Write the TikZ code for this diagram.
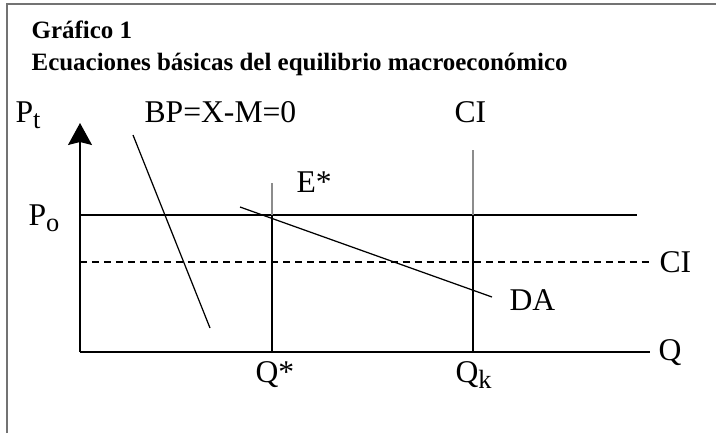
\documentclass[tikz,border=0pt]{standalone}
\usepackage{fontspec}
\setmainfont{Liberation Serif}
\usetikzlibrary{arrows.meta}

\newcommand{\lowidx}[1]{\raisebox{-0.45ex}{\fontsize{15}{15}\selectfont #1}}

\begin{document}
\begin{tikzpicture}[x=0.2mm, y=-0.2mm, line width=0.7pt,
    lbl/.style={anchor=base west, inner sep=0pt, font=\fontsize{18}{18}\selectfont},
    ttl/.style={anchor=base west, inner sep=0pt, font=\bfseries\fontsize{14.2}{16}\selectfont}]
    \useasboundingbox (0,0) rectangle (716,433);
    \coordinate (O) at (80,352);
    \coordinate (Pt) at (80,123);
    \coordinate (Qe) at (650,352);
    \coordinate (P0a) at (80,215);
    \coordinate (P0b) at (637,215);
    \coordinate (CIa) at (80,262);
    \coordinate (CIb) at (653,262);
    \coordinate (BPa) at (133,135);
    \coordinate (BPb) at (210,328);
    \coordinate (DAa) at (240,207);
    \coordinate (DAb) at (492,297);
    \coordinate (QSa) at (272,183);
    \coordinate (QSm) at (272,215);
    \coordinate (QSb) at (272,352);
    \coordinate (QKa) at (473,150);
    \coordinate (QKm) at (473,215);
    \coordinate (QKb) at (473,352);
    % frame
    \draw[black!55] (7,433) -- (7,4) -- (716,4);
    % axes
    \draw[-{Stealth[length=4.4mm,width=4.8mm,inset=0.6mm]}] (O) -- (Pt);
    \draw (O) -- (Qe);
    \draw (P0a) -- (P0b);
    \draw[dashed, dash pattern=on 4pt off 2.8pt] (CIa) -- (CIb);
    \draw (BPa) -- (BPb);
    \draw (DAa) -- (DAb);
    \draw[black!45] (QSa) -- (QSm);
    \draw (QSm) -- (QSb);
    \draw[black!45] (QKa) -- (QKm);
    \draw (QKm) -- (QKb);
    % labels
    \node[ttl] (t1) at (31,38) {Gráfico 1};
    \node[ttl] (t2) at (31,70) {Ecuaciones básicas del equilibrio macroeconómico};
    \node[lbl] (lPt) at (15,122) {P\lowidx{t}};
    \node[lbl] (lBP) at (144,122) {BP=X-M=0};
    \node[lbl] (lCIv) at (454,122) {CI};
    \node[lbl] (lE) at (296,192) {E*};
    \node[lbl] (lP0) at (28,225) {P\lowidx{o}};
    \node[lbl] (lCIh) at (659,272) {CI};
    \node[lbl] (lDA) at (509,310) {DA};
    \node[lbl] (lQ) at (658,360) {Q};
    \node[lbl] (lQs) at (255,382) {Q*};
    \node[lbl] (lQk) at (455,382) {Q\lowidx{k}};
\end{tikzpicture}
\end{document}
